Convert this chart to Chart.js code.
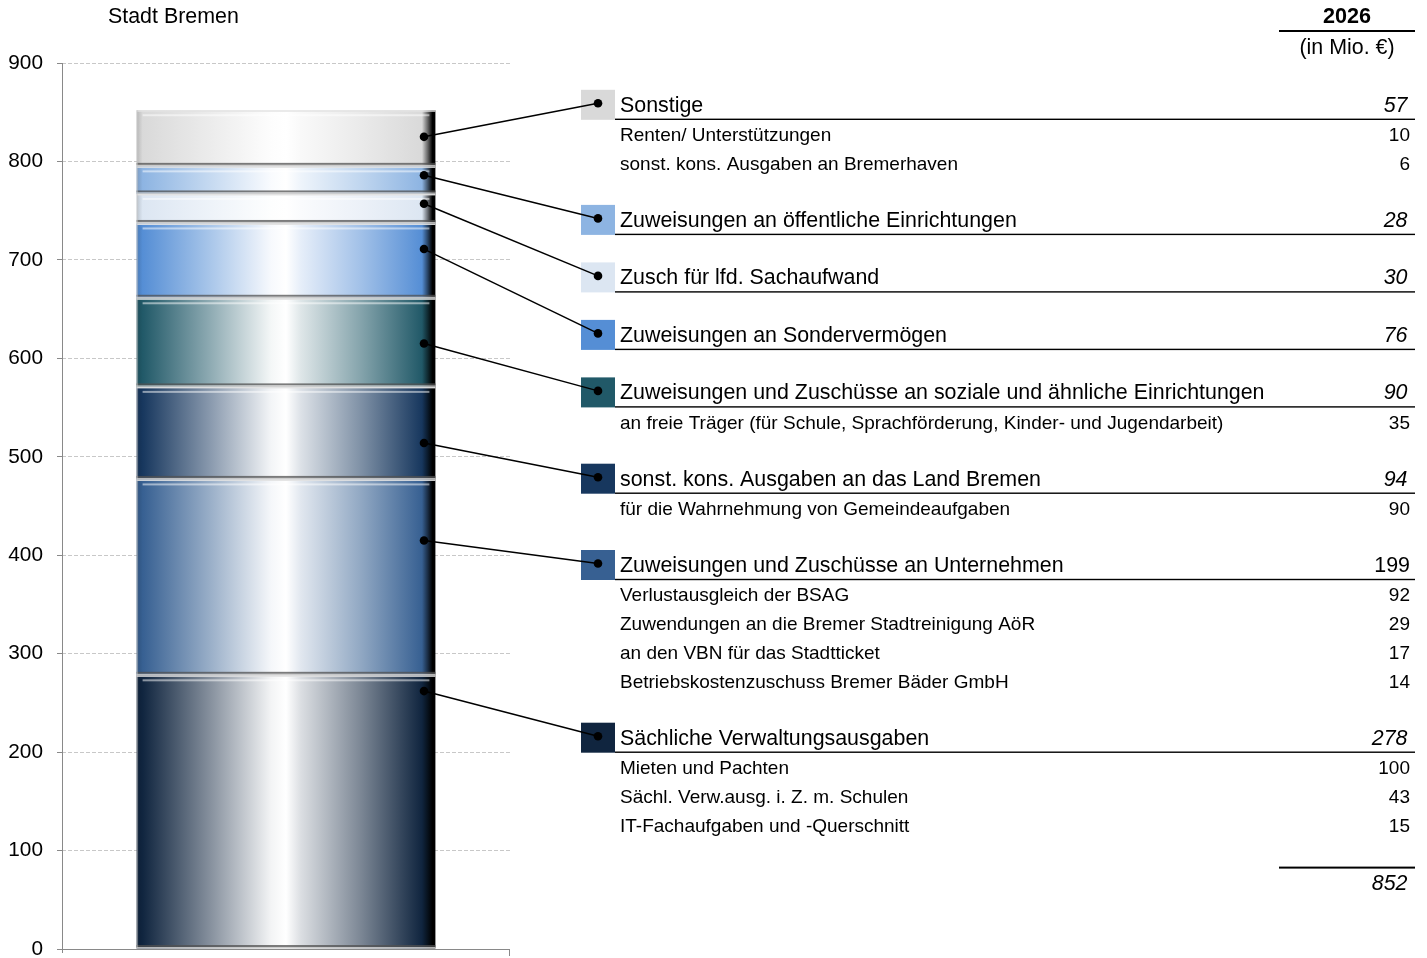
<!DOCTYPE html>
<html><head><meta charset="utf-8">
<script src="https://cdn.jsdelivr.net/npm/chart.js@4/dist/chart.umd.min.js"></script>
<style>html,body{margin:0;padding:0;background:#fff;overflow:hidden}canvas{display:block}</style>
</head><body>
<canvas id="c" width="1427" height="958"></canvas>
<script>
// ---- data (stack order, bottom to top) ----
const categories = [
  'Sächliche Verwaltungsausgaben',
  'Zuweisungen und Zuschüsse an Unternehmen',
  'sonst. kons. Ausgaben an das Land Bremen',
  'Zuweisungen und Zuschüsse an soziale und ähnliche Einrichtungen',
  'Zuweisungen an Sondervermögen',
  'Zusch für lfd. Sachaufwand',
  'Zuweisungen an öffentliche Einrichtungen',
  'Sonstige'
];
const values = [278, 199, 94, 90, 76, 30, 28, 57];
const anchorValues = [262, 415, 514, 615, 711, 757, 786, 825];
const subLabels = [
  ['Mieten und Pachten', 'Sächl. Verw.ausg. i. Z. m. Schulen', 'IT-Fachaufgaben und -Querschnitt'],
  ['Verlustausgleich der BSAG', 'Zuwendungen an die Bremer Stadtreinigung AöR', 'an den VBN für das Stadtticket', 'Betriebskostenzuschuss Bremer Bäder GmbH'],
  ['für die Wahrnehmung von Gemeindeaufgaben'],
  ['an freie Träger (für Schule, Sprachförderung, Kinder- und Jugendarbeit)'],
  [], [], [],
  ['Renten/ Unterstützungen', 'sonst. kons. Ausgaben an Bremerhaven']
];
const subValues = [[100, 43, 15], [92, 29, 17, 14], [90], [35], [], [], [], [10, 6]];
const totalValue = 852;
const yTicks = [0, 100, 200, 300, 400, 500, 600, 700, 800, 900];
const barLabel = ['2026'];
const chartTitle = 'Stadt Bremen';
const headerYear = '2026';
const headerUnit = '(in Mio. €)';

// ---- styles ----
const segColors = ['#10253F', '#376092', '#17375E', '#215968', '#558ED5', '#DCE6F2', '#8DB4E2', '#D9D9D9'];
const valueItalic = [true, false, true, true, true, true, true, true];
const FONT = '"Liberation Sans", Arial, sans-serif';
const MAIN = '21.4px ';
const SUB = '19px ';

function hexToRgb(h){h=h.replace('#','');return [parseInt(h.substr(0,2),16),parseInt(h.substr(2,2),16),parseInt(h.substr(4,2),16)];}
function mix(h, t, f){const a=hexToRgb(h);return 'rgb('+a.map((v,i)=>Math.round(v+(t[i]-v)*f)).join(',')+')';}

function barGradient(ctx, i){
  const chart = ctx.chart;
  if (!chart.chartArea) return segColors[i];
  const xs = chart.scales.x;
  const cx = xs.getPixelForValue(0);
  const w = (xs.right - xs.left) * 0.667;
  const g = chart.ctx.createLinearGradient(cx - w/2, 0, cx + w/2, 0);
  const c = segColors[i];
  g.addColorStop(0, mix(c,[0,0,0],0.15));
  g.addColorStop(0.02, c);
  g.addColorStop(0.25, mix(c,[255,255,255],0.5));
  g.addColorStop(0.45, mix(c,[255,255,255],0.95));
  g.addColorStop(0.5, '#ffffff');
  g.addColorStop(0.55, mix(c,[255,255,255],0.85));
  g.addColorStop(0.75, mix(c,[255,255,255],0.45));
  g.addColorStop(0.955, c);
  g.addColorStop(0.975, mix(c,[0,0,0],0.55));
  g.addColorStop(0.99, '#000000');
  g.addColorStop(1, '#000000');
  return g;
}

const datasets = values.map((v, i) => ({
  label: categories[i],
  data: [v],
  backgroundColor: (ctx) => barGradient(ctx, i),
  borderWidth: 0,
  categoryPercentage: 1,
  barPercentage: 0.667
}));

const overlay = {
  id: 'overlay',
  afterDatasetsDraw(chart) {
    const ctx = chart.ctx;
    const ys = chart.scales.y;
    const area = chart.chartArea;
    ctx.save();
    ctx.setLineDash([]);
    // bevels on segments
    chart.data.datasets.forEach((ds, i) => {
      const el = chart.getDatasetMeta(i).data[0];
      const left = el.x - el.width/2;
      const top = Math.min(el.y, el.base), bot = Math.max(el.y, el.base);
      ctx.fillStyle = 'rgba(225,225,225,0.95)';
      ctx.fillRect(left, top, el.width, 1.5);
      ctx.fillStyle = 'rgba(255,255,255,0.5)';
      ctx.fillRect(left + 6, top + 4, el.width - 12, 2);
      ctx.fillStyle = 'rgba(80,80,80,0.75)';
      ctx.fillRect(left, bot - 3.5, el.width, 2);
      ctx.fillStyle = 'rgba(200,200,200,0.9)';
      ctx.fillRect(left, bot - 1.5, el.width, 1.5);
      ctx.fillStyle = 'rgba(200,200,200,0.5)';
      ctx.fillRect(left, top, 1.5, bot - top);
    });
    // axes lines and end ticks
    ctx.strokeStyle = '#898989';
    ctx.lineWidth = 1;
    ctx.beginPath();
    ctx.moveTo(area.left + 0.5, area.top);
    ctx.lineTo(area.left + 0.5, area.bottom + 4);
    ctx.moveTo(area.left, area.bottom + 0.5);
    ctx.lineTo(area.right, area.bottom + 0.5);
    ctx.moveTo(area.right - 0.5, area.bottom);
    ctx.lineTo(area.right - 0.5, area.bottom + 7);
    ctx.stroke();

    // title
    ctx.fillStyle = '#000';
    ctx.textBaseline = 'alphabetic';
    ctx.font = MAIN + FONT;
    ctx.textAlign = 'left';
    ctx.fillText(chartTitle, 108, 23);

    // header
    ctx.textAlign = 'center';
    ctx.font = 'bold 21.6px ' + FONT;
    ctx.fillText(headerYear, 1347, 23);
    ctx.fillRect(1279, 30, 136, 2);
    ctx.font = MAIN + FONT;
    ctx.fillText(headerUnit, 1347, 54);

    // table
    const boxL = 581, boxR = 615, lineR = 1415, valX = 1410, textX = 620;
    let u = 119.3;
    for (let k = values.length - 1; k >= 0; k--) {
      ctx.fillStyle = segColors[k];
      ctx.fillRect(boxL, u - 29.5, boxR - boxL, 30);
      ctx.fillStyle = '#000';
      ctx.fillRect(boxR, u - 0.7, lineR - boxR, 1.4);
      ctx.textAlign = 'left';
      ctx.font = MAIN + FONT;
      ctx.fillText(categories[k], textX, u - 7.5);
      ctx.textAlign = 'right';
      ctx.font = (valueItalic[k] ? 'italic ' : '') + MAIN + FONT;
      ctx.fillText(String(values[k]), valueItalic[k] ? 1407.5 : valX, u - 7.5);
      // leader line
      const legY = u - 16;
      const barY = ys.getPixelForValue(anchorValues[k]);
      const barX = 424;
      ctx.strokeStyle = '#000';
      ctx.lineWidth = 1.5;
      ctx.beginPath();
      ctx.moveTo(barX, barY);
      ctx.lineTo(598, legY);
      ctx.stroke();
      ctx.beginPath(); ctx.arc(barX, barY, 4.3, 0, Math.PI*2); ctx.fill();
      ctx.beginPath(); ctx.arc(598, legY, 4.3, 0, Math.PI*2); ctx.fill();
      // sub rows
      ctx.font = SUB + FONT;
      subLabels[k].forEach((s, j) => {
        const b = u + 21.7 + 28.8 * j;
        ctx.textAlign = 'left';
        ctx.fillText(s, textX, b);
        ctx.textAlign = 'right';
        ctx.fillText(String(subValues[k][j]), valX, b);
      });
      u += 28.8 * subLabels[k].length + 57.5;
    }
    // total
    const tl = u - 28.5;
    ctx.fillRect(1279, tl - 1, 136, 2);
    ctx.textAlign = 'right';
    ctx.font = 'italic ' + MAIN + FONT;
    ctx.fillText(String(totalValue), 1407.5, tl + 22.5);
    ctx.restore();
  }
};

new Chart(document.getElementById('c'), {
  type: 'bar',
  data: { labels: barLabel, datasets },
  options: {
    responsive: false,
    animation: false,
    events: [],
    plugins: { legend: { display: false }, tooltip: { enabled: false }, title: { display: false } },
    layout: { padding: { left: 0, top: 63, right: 917, bottom: 9 } },
    scales: {
      x: { stacked: true, display: false },
      y: {
        stacked: true,
        min: 0, max: 900,
        afterFit: (s) => { s.width = 62; s.paddingTop = 0; s.paddingBottom = 0; },
        afterBuildTicks: (s) => { s.ticks = yTicks.map(v => ({ value: v })); },
        ticks: { color: '#000', padding: 14, font: { family: FONT, size: 20.8 } },
        grid: { color: '#c8c8c8', drawTicks: true, tickLength: 5, tickColor: '#898989', tickBorderDash: [] },
        border: { display: false, color: '#898989', width: 1, dash: [4, 2] }
      }
    }
  },
  plugins: [overlay]
});
</script>
</body></html>
